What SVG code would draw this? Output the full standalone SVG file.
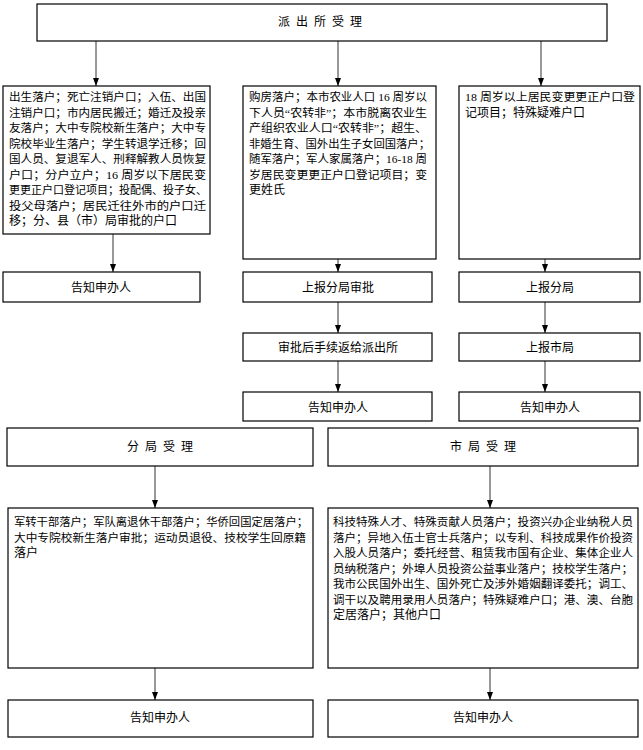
<svg xmlns="http://www.w3.org/2000/svg" width="643" height="750" viewBox="0 0 643 750">
<style>
.box{fill:#fff;stroke:#000;stroke-width:1.2}
.t{font-family:"Liberation Serif","Noto Sans CJK SC",serif;font-size:12px;fill:#000}
.s{font-size:11px}
.c{text-anchor:middle;dominant-baseline:central}
.h{letter-spacing:6px}
.ln{stroke:#333;stroke-width:1;fill:none;marker-end:url(#ah)}
</style>
<defs>
<marker id="ah" viewBox="0 0 8 8" refX="8" refY="4" markerWidth="8" markerHeight="8" markerUnits="userSpaceOnUse" orient="auto">
<path d="M0,1 L8,4 L0,7 Z" fill="#000"/>
</marker>
</defs>
<rect width="643" height="750" fill="#fff"/>
<g id="connectors">
<line class="ln" x1="96" y1="41" x2="96" y2="86"/>
<line class="ln" x1="338" y1="41" x2="338" y2="86"/>
<line class="ln" x1="541" y1="41" x2="541" y2="86"/>
<line class="ln" x1="113" y1="234" x2="113" y2="272"/>
<line class="ln" x1="338" y1="259" x2="338" y2="272"/>
<line class="ln" x1="545" y1="259" x2="545" y2="272"/>
<line class="ln" x1="338" y1="302" x2="338" y2="333"/>
<line class="ln" x1="545" y1="302" x2="545" y2="333"/>
<line class="ln" x1="338" y1="361" x2="338" y2="392"/>
<line class="ln" x1="545" y1="361" x2="545" y2="392"/>
<line class="ln" x1="155" y1="466" x2="155" y2="508"/>
<line class="ln" x1="490" y1="466" x2="490" y2="508"/>
<line class="ln" x1="155" y1="668" x2="155" y2="700"/>
<line class="ln" x1="490" y1="668" x2="490" y2="700"/>
</g>
<g id="top">
<rect class="box" x="37" y="4" width="570" height="37"/>
<text class="t c h" x="323" y="22">派出所受理</text>
</g>
<g id="left-items">
<rect class="box" x="3" y="86" width="207" height="148"/>
<text class="t s" x="9" y="101" textLength="197" lengthAdjust="spacingAndGlyphs">出生落户；死亡注销户口；入伍、出国</text>
<text class="t s" x="9" y="116.5" textLength="197" lengthAdjust="spacingAndGlyphs">注销户口；市内居民搬迁；婚迁及投亲</text>
<text class="t s" x="9" y="132" textLength="197" lengthAdjust="spacingAndGlyphs">友落户；大中专院校新生落户；大中专</text>
<text class="t s" x="9" y="147.5" textLength="197" lengthAdjust="spacingAndGlyphs">院校毕业生落户；学生转退学迁移；回</text>
<text class="t s" x="9" y="163" textLength="197" lengthAdjust="spacingAndGlyphs">国人员、复退军人、刑释解教人员恢复</text>
<text class="t s" x="9" y="178.5" textLength="197" lengthAdjust="spacingAndGlyphs">户口；分户立户；16 周岁以下居民变</text>
<text class="t s" x="9" y="194" textLength="198" lengthAdjust="spacingAndGlyphs">更更正户口登记项目；投配偶、投子女、</text>
<text class="t s" x="9" y="209.5" textLength="197" lengthAdjust="spacingAndGlyphs">投父母落户；居民迁往外市的户口迁</text>
<text class="t" x="9" y="225">移；分、县（市）局审批的户口</text>
</g>
<g id="mid-items">
<rect class="box" x="243" y="86" width="193" height="173"/>
<text class="t s" x="249" y="101" textLength="178" lengthAdjust="spacingAndGlyphs">购房落户；本市农业人口 16 周岁以</text>
<text class="t s" x="249" y="116.5" textLength="178" lengthAdjust="spacingAndGlyphs">下人员“农转非”；本市脱离农业生</text>
<text class="t s" x="249" y="132" textLength="178" lengthAdjust="spacingAndGlyphs">产组织农业人口“农转非”；超生、</text>
<text class="t s" x="249" y="147.5" textLength="181" lengthAdjust="spacingAndGlyphs">非婚生育、国外出生子女回国落户；</text>
<text class="t s" x="249" y="163" textLength="178" lengthAdjust="spacingAndGlyphs">随军落户；军人家属落户；16-18 周</text>
<text class="t s" x="249" y="178.5" textLength="178" lengthAdjust="spacingAndGlyphs">岁居民变更更正户口登记项目；变</text>
<text class="t" x="249" y="194">更姓氏</text>
</g>
<g id="right-items">
<rect class="box" x="459" y="86" width="181" height="173"/>
<text class="t s" x="465" y="101" textLength="170" lengthAdjust="spacingAndGlyphs">18 周岁以上居民变更更正户口登</text>
<text class="t" x="465" y="116.5">记项目；特殊疑难户口</text>
</g>
<g id="left-notify">
<rect class="box" x="3" y="272" width="197" height="30"/>
<text class="t c" x="101" y="288">告知申办人</text>
</g>
<g id="mid-report">
<rect class="box" x="243" y="272" width="189" height="30"/>
<text class="t c" x="338" y="288">上报分局审批</text>
</g>
<g id="right-report">
<rect class="box" x="459" y="272" width="181" height="30"/>
<text class="t c" x="550" y="288">上报分局</text>
</g>
<g id="mid-return">
<rect class="box" x="243" y="333" width="189" height="28"/>
<text class="t c" x="338" y="348">审批后手续返给派出所</text>
</g>
<g id="right-city">
<rect class="box" x="459" y="333" width="181" height="28"/>
<text class="t c" x="550" y="348">上报市局</text>
</g>
<g id="mid-notify">
<rect class="box" x="243" y="392" width="189" height="29"/>
<text class="t c" x="338" y="408">告知申办人</text>
</g>
<g id="right-notify">
<rect class="box" x="459" y="392" width="181" height="29"/>
<text class="t c" x="550" y="408">告知申办人</text>
</g>
<g id="branch">
<rect class="box" x="7" y="428" width="306" height="38"/>
<text class="t c h" x="163" y="447">分局受理</text>
</g>
<g id="city">
<rect class="box" x="328" y="428" width="310" height="38"/>
<text class="t c h" x="486" y="447">市局受理</text>
</g>
<g id="branch-items">
<rect class="box" x="8" y="508" width="305" height="160"/>
<text class="t s" x="14" y="526" textLength="294" lengthAdjust="spacingAndGlyphs">军转干部落户；军队离退休干部落户；华侨回国定居落户；</text>
<text class="t s" x="14" y="541.5" textLength="292" lengthAdjust="spacingAndGlyphs">大中专院校新生落户审批；运动员退役、技校学生回原籍</text>
<text class="t" x="14" y="557">落户</text>
</g>
<g id="city-items">
<rect class="box" x="328" y="508" width="310" height="160"/>
<text class="t s" x="333" y="526" textLength="300" lengthAdjust="spacingAndGlyphs">科技特殊人才、特殊贡献人员落户；投资兴办企业纳税人员</text>
<text class="t s" x="333" y="541.5" textLength="300" lengthAdjust="spacingAndGlyphs">落户；异地入伍士官士兵落户；以专利、科技成果作价投资</text>
<text class="t s" x="333" y="557" textLength="300" lengthAdjust="spacingAndGlyphs">入股人员落户；委托经营、租赁我市国有企业、集体企业人</text>
<text class="t s" x="333" y="572.5" textLength="300" lengthAdjust="spacingAndGlyphs">员纳税落户；外埠人员投资公益事业落户；技校学生落户；</text>
<text class="t s" x="333" y="588" textLength="300" lengthAdjust="spacingAndGlyphs">我市公民国外出生、国外死亡及涉外婚姻翻译委托；调工、</text>
<text class="t s" x="333" y="603.5" textLength="300" lengthAdjust="spacingAndGlyphs">调干以及聘用录用人员落户；特殊疑难户口；港、澳、台胞</text>
<text class="t" x="333" y="619">定居落户；其他户口</text>
</g>
<g id="branch-notify">
<rect class="box" x="8" y="700" width="305" height="37"/>
<text class="t c" x="160" y="718">告知申办人</text>
</g>
<g id="city-notify">
<rect class="box" x="328" y="700" width="310" height="37"/>
<text class="t c" x="483" y="718">告知申办人</text>
</g>
</svg>
